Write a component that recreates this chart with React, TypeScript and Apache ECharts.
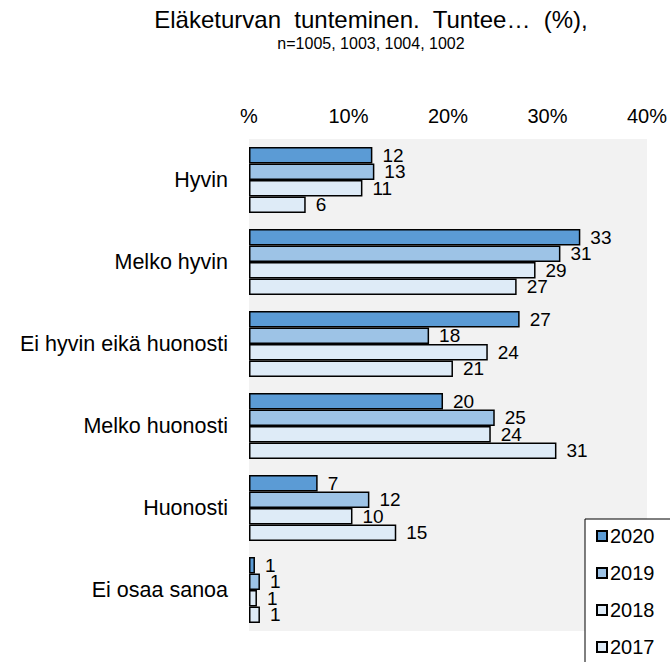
import React, { useEffect, useRef } from "react";
import * as echarts from "echarts";

const categories = [
  "Hyvin",
  "Melko hyvin",
  "Ei hyvin eikä huonosti",
  "Melko huonosti",
  "Huonosti",
  "Ei osaa sanoa",
];
const years = ["2020", "2019", "2018", "2017"];
const values2020 = [12.4, 33.3, 27.2, 19.5, 6.9, 0.6];
const values2019 = [12.6, 31.3, 18.1, 24.7, 12.1, 1.1];
const values2018 = [11.4, 28.8, 24.0, 24.3, 10.4, 0.8];
const values2017 = [5.7, 26.9, 20.5, 30.9, 14.8, 1.1];
const xTicks = [0, 10, 20, 30, 40];

const colors = ["#5b9bd5", "#9dc3e6", "#deebf7", "#deebf7"];
const FONT = "'Liberation Sans', Arial, sans-serif";

export default function App() {
  const ref = useRef<HTMLDivElement>(null);
  useEffect(() => {
    if (!ref.current) return;
    const chart = echarts.init(ref.current, undefined, { renderer: "svg" });
    const allValues = [values2020, values2019, values2018, values2017];
    chart.setOption({
      animation: false,
      textStyle: { fontFamily: FONT, color: "#000" },
      title: {
        text: "Eläketurvan  tunteminen.  Tuntee…  (%),",
        subtext: "n=1005, 1003, 1004, 1002",
        left: 366,
        textAlign: "center",
        top: 2,
        itemGap: 4,
        textStyle: { fontFamily: FONT, fontSize: 24, fontWeight: "normal", color: "#000" },
        subtextStyle: { fontFamily: FONT, fontSize: 16, color: "#000" },
      },
      legend: {
        orient: "vertical",
        left: 585,
        top: 519,
        height: 300,
        data: years,
        backgroundColor: "#fff",
        borderColor: "#000",
        borderWidth: 1,
        borderRadius: 0,
        padding: [7, 100, 100, 11],
        itemWidth: 10,
        itemHeight: 10,
        itemGap: 17,
        icon: "rect",
        textStyle: { fontFamily: FONT, fontSize: 20, color: "#000", padding: [0, 0, 0, -2] },
      },
      grid: { left: 249, top: 139, width: 398, height: 492, backgroundColor: "#f2f2f2", show: true, borderWidth: 0 },
      xAxis: {
        type: "value",
        position: "top",
        min: xTicks[0],
        max: xTicks[xTicks.length - 1],
        interval: 10,
        axisLine: { show: false },
        axisTick: { show: false },
        splitLine: { show: false },
        axisLabel: {
          fontFamily: FONT,
          fontSize: 20,
          color: "#000",
          margin: 13,
          formatter: (v: number) => (v === 0 ? "%" : v + "%"),
        },
      },
      yAxis: {
        type: "category",
        data: categories,
        inverse: true,
        axisLine: { show: false },
        axisTick: { show: false },
        axisLabel: { fontFamily: FONT, fontSize: 21.5, color: "#000", margin: 21, padding: [6, 0, 0, 0] },
      },
      series: years.map((y, i) => ({
        name: y,
        type: "bar",
        data: allValues[i],
        barGap: "0%",
        barCategoryGap: "19.5%",
        itemStyle: { color: colors[i], borderColor: "#000", borderWidth: 1.5 },
        label: {
          show: true,
          position: "right",
          distance: 10,
          fontFamily: FONT,
          fontSize: 19,
          color: "#000",
          formatter: (p: any) => String(Math.round(p.value)),
        },
      })),
    });
    return () => chart.dispose();
  }, []);
  return <div ref={ref} style={{ width: 670, height: 662, position: "absolute", left: 0, top: 0 }} />;
}
